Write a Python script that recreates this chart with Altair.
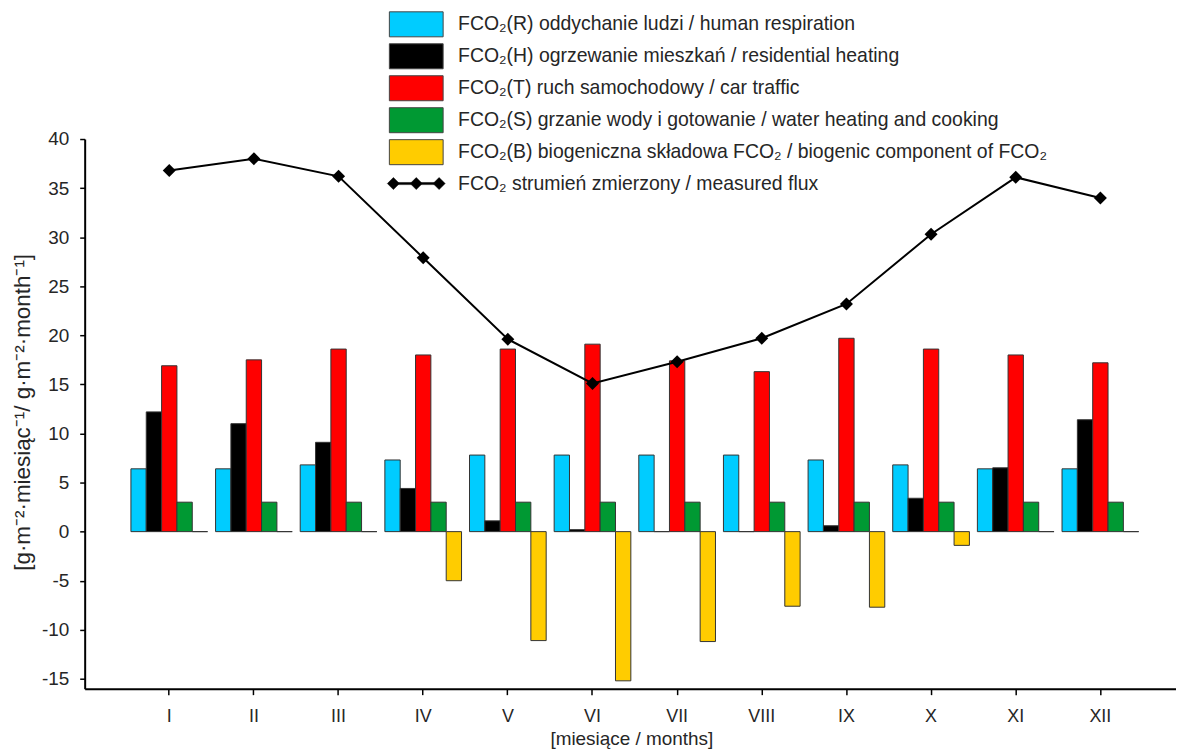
import altair as alt
import pandas as pd

# ---------------- data ----------------
months = ["I", "II", "III", "IV", "V", "VI", "VII", "VIII", "IX", "X", "XI", "XII"]

series = [
    "FCO₂(R) oddychanie ludzi / human respiration",
    "FCO₂(H) ogrzewanie mieszkań / residential heating",
    "FCO₂(T) ruch samochodowy / car traffic",
    "FCO₂(S) grzanie wody i gotowanie / water heating and cooking",
    "FCO₂(B) biogeniczna składowa FCO₂ / biogenic component of FCO₂",
]
colors = ["#00CCFF", "#000000", "#FF0000", "#009933", "#FFCC00"]

respiration = [6.4, 6.4, 6.8, 7.3, 7.8, 7.8, 7.8, 7.8, 7.3, 6.8, 6.4, 6.4]
heating = [12.2, 11.0, 9.1, 4.4, 1.1, 0.2, 0.0, 0.0, 0.6, 3.4, 6.5, 11.4]
traffic = [16.9, 17.5, 18.6, 18.0, 18.6, 19.1, 17.4, 16.3, 19.7, 18.6, 18.0, 17.2]
cooking = [3.0, 3.0, 3.0, 3.0, 3.0, 3.0, 3.0, 3.0, 3.0, 3.0, 3.0, 3.0]
biogenic = [0.0, 0.0, 0.0, -5.0, -11.1, -15.2, -11.2, -7.6, -7.7, -1.4, 0.0, 0.0]

measured = [36.8, 38.0, 36.2, 27.9, 19.6, 15.1, 17.3, 19.7, 23.2, 30.3, 36.1, 34.0]
measured_label = "FCO₂ strumień zmierzony / measured flux"

y_ticks = [-15, -10, -5, 0, 5, 10, 15, 20, 25, 30, 35, 40]

rows = []
for i, m in enumerate(months):
    for s, vals in zip(series, [respiration, heating, traffic, cooking, biogenic]):
        rows.append({"month": m, "series": s, "value": vals[i]})
bars_df = pd.DataFrame(rows)
line_df = pd.DataFrame({"month": months, "value": measured, "label": [measured_label] * len(months)})

# ---------------- styling ----------------
FONT = "Liberation Sans"
TXT = "#262626"
W, H = 1096, 552

rect_path = "M-2,-0.93L2,-0.93L2,0.93L-2,0.93Z"
flux_path = (
    "M-2.15,0L-1.7,-0.45L-1.25,0L-1.7,0.45Z"
    "M-0.45,0L0,-0.45L0.45,0L0,0.45Z"
    "M1.25,0L1.7,-0.45L2.15,0L1.7,0.45Z"
    "M-1.7,-0.08L1.7,-0.08L1.7,0.08L-1.7,0.08Z"
)

x_scale = alt.Scale(domain=months, paddingInner=0.0941, paddingOuter=0.4935, align=0.5536)
y_scale = alt.Scale(domain=[-16, 40], nice=False)

x_axis = alt.Axis(
    title="[miesiące / months]", labelAngle=0, labelFontSize=18, labelFont=FONT, labelColor=TXT,
    labelPadding=13, tickSize=6, tickWidth=1.5, tickColor="black", domainColor="black", domainWidth=2,
    titleFont=FONT, titleFontSize=19, titleFontWeight="normal", titleColor=TXT,
    titleX=549, titleY=50, titleBaseline="middle", titleAlign="center", grid=False,
)
y_axis = alt.Axis(
    title="[g·m⁻²·miesiąc⁻¹/ g·m⁻²·month⁻¹]", values=y_ticks, labelFontSize=19, labelFont=FONT,
    labelExpr="'' + datum.value",
    labelColor=TXT, labelPadding=11, tickSize=5, tickWidth=1.5, tickColor="black",
    domainColor="black", domainWidth=2, titleFont=FONT, titleFontSize=22.5, titleFontWeight="normal",
    titleColor=TXT, titleX=-62, titleY=H / 2 - 2, titleAngle=270, titleBaseline="middle",
    titleAlign="center", grid=False,
)

legend_common = dict(
    title=None, orient="none", legendX=319, symbolSize=729, symbolOpacity=1,
    labelFontSize=19.5, labelFont=FONT, labelColor=TXT, labelOffset=28, labelLimit=900, padding=0,
)

bars = alt.Chart(bars_df).mark_bar(stroke="#333333", strokeWidth=1).encode(
    x=alt.X("month:N", scale=x_scale, axis=x_axis, sort=months),
    xOffset=alt.XOffset("series:N", sort=series,
                        scale=alt.Scale(domain=series, paddingInner=0, paddingOuter=0)),
    y=alt.Y("value:Q", scale=y_scale, axis=y_axis, stack=None),
    y2=alt.datum(0),
    fill=alt.Fill(
        "series:N",
        scale=alt.Scale(domain=series, range=colors),
        legend=alt.Legend(
            legendY=-129.2, symbolType=rect_path, symbolStrokeColor="#444444",
            symbolStrokeWidth=1, rowPadding=2.1, **legend_common,
        ),
    ),
)

line = alt.Chart(line_df).mark_line(strokeWidth=2).encode(
    x=alt.X("month:N", scale=x_scale, axis=x_axis, sort=months),
    y=alt.Y("value:Q", scale=y_scale, axis=y_axis),
    stroke=alt.Stroke(
        "label:N",
        scale=alt.Scale(domain=[measured_label], range=["black"]),
        legend=alt.Legend(
            legendY=30.7, symbolType=flux_path, symbolFillColor="black",
            symbolStrokeWidth=0.5, **legend_common,
        ),
    ),
)

points = alt.Chart(line_df).mark_point(shape="diamond", filled=True, size=170, color="black", opacity=1).encode(
    x=alt.X("month:N", scale=x_scale, axis=x_axis, sort=months),
    y=alt.Y("value:Q", scale=y_scale, axis=y_axis),
)

chart = alt.layer(bars, line, points).properties(
    width=W, height=H,
    padding={"left": 77, "top": 130, "right": 0, "bottom": 60},
    autosize=alt.AutoSizeParams(type="none"),
).configure(background="white").configure_view(stroke=None)

chart.save("out.html", embed_options={"renderer": "svg", "actions": False})
